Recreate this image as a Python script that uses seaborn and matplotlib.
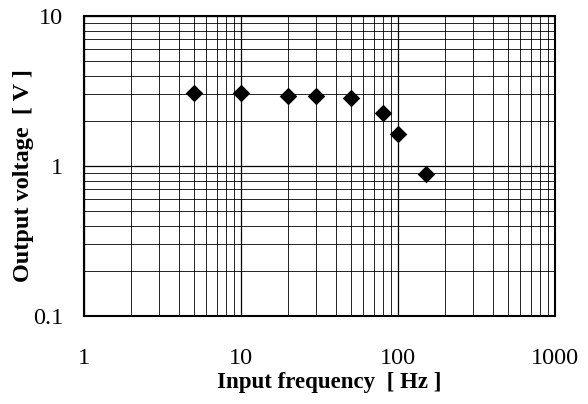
import matplotlib
matplotlib.use("Agg")
import matplotlib.pyplot as plt
import seaborn as sns
import pandas as pd
import numpy as np
from matplotlib.ticker import LogLocator, FixedLocator, NullFormatter

frequency = [5, 10, 20, 30, 50, 80, 100, 150]
voltage = [3.08, 3.08, 2.94, 2.94, 2.85, 2.27, 1.63, 0.89]
x_ticks = [1, 10, 100, 1000]
x_tick_labels = ["1", "10", "100", "1000"]
y_ticks = [0.1, 1, 10]
y_tick_labels = ["0.1", "1", "10"]

sns.set_theme(style="white")
plt.rcParams["font.family"] = ["Liberation Serif", "DejaVu Serif"]
plt.rcParams["text.color"] = "black"
plt.rcParams["axes.labelcolor"] = "black"
plt.rcParams["xtick.color"] = "black"
plt.rcParams["ytick.color"] = "black"

df = pd.DataFrame({"freq": frequency, "volt": voltage})

fig = plt.figure(figsize=(5.88, 4.04), dpi=100)
ax = fig.add_axes([84/588, 1 - 316/404, (555-84)/588, (316-16)/404])

ax.set_xscale("log")
ax.set_yscale("log")
ax.set_xlim(1, 1000)
ax.set_ylim(0.1, 10)

sns.scatterplot(data=df, x="freq", y="volt", ax=ax, marker="D", s=80,
                color="black", edgecolor="black", linewidth=0, zorder=5)

ax.xaxis.set_major_locator(FixedLocator(x_ticks))
ax.yaxis.set_major_locator(FixedLocator(y_ticks))
ax.set_xticklabels(x_tick_labels)
ax.set_yticklabels(y_tick_labels)
ax.xaxis.set_minor_locator(LogLocator(base=10, subs=np.arange(2, 10), numticks=20))
ax.yaxis.set_minor_locator(LogLocator(base=10, subs=np.arange(2, 10), numticks=20))
ax.xaxis.set_minor_formatter(NullFormatter())
ax.yaxis.set_minor_formatter(NullFormatter())

ax.grid(which="major", color="black", linewidth=0.9)
ax.grid(which="minor", color="black", linewidth=0.6)
ax.set_axisbelow(True)

ax.tick_params(axis="both", which="both", length=0, colors="black")
ax.tick_params(axis="x", which="major", pad=23, labelsize=17.5)
ax.tick_params(axis="y", which="major", pad=15, labelsize=17.5)

for s in ax.spines.values():
    s.set_color("black")
    s.set_linewidth(1.5)

ax.set_xlabel("Input frequency  [ Hz ]", fontsize=16.5, fontweight="bold",
              labelpad=2.5, color="black")
ax.set_ylabel("Output voltage  [ V ]", fontsize=17.5, fontweight="bold",
              labelpad=-1, color="black")
ax.xaxis.label.set_x(0.52)
ax.yaxis.label.set_y(0.467)

fig.savefig("out.png", dpi=100)
